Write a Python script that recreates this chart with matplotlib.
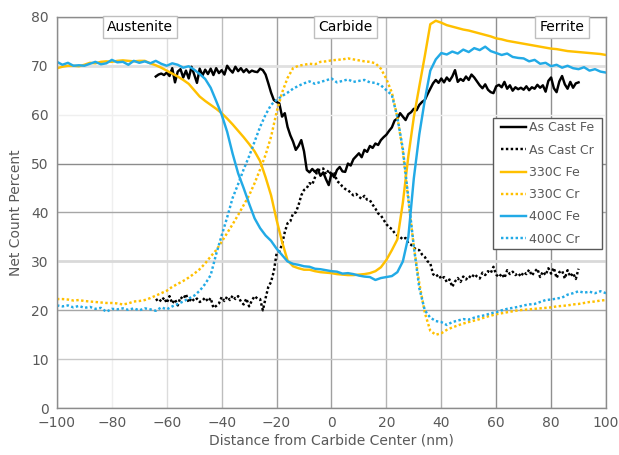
import matplotlib.pyplot as plt
import numpy as np
from matplotlib.patches import Rectangle

# distance axis (nm): heat-treated scans at 2 nm, as-cast scan at 1 nm
x_full = np.arange(-100, 101, 2)
x_cast = np.arange(-64, 91, 1)

fe_330 = [69.5, 69.8, 70.0, 70.0, 69.9, 70.2, 70.6, 70.5, 70.8, 70.9,
          70.8, 71.0, 71.1, 71.0, 70.9, 71.0, 71.0, 70.5, 70.1, 69.6,
          69.0, 68.4, 67.8, 67.1, 66.3, 65.0, 63.7, 62.8, 62.0, 61.2,
          60.3, 59.2, 58.0, 56.7, 55.4, 54.0, 52.5, 50.5, 47.2, 43.5,
          38.5, 34.0, 30.2, 29.0, 28.6, 28.3, 28.3, 28.0, 27.8, 27.7,
          27.6, 27.4, 27.3, 27.2, 27.2, 27.3, 27.4, 27.6, 28.0, 28.8,
          30.3, 32.3, 34.5, 42.0, 51.5, 59.5, 65.8, 72.0, 78.5, 79.2,
          78.8, 78.3, 78.0, 77.7, 77.4, 77.2, 76.9, 76.6, 76.3, 76.0,
          75.6, 75.4, 75.1, 74.9, 74.7, 74.5, 74.3, 74.1, 73.9, 73.7,
          73.5, 73.4, 73.2, 73.0, 72.9, 72.8, 72.7, 72.6, 72.5, 72.4, 72.2]

fe_400 = [70.8, 70.2, 70.6, 70.0, 70.1, 70.0, 70.4, 70.8, 70.3, 70.5,
          71.2, 70.7, 70.8, 70.2, 71.0, 70.6, 70.9, 70.5, 71.0, 70.4,
          70.0, 70.5, 70.2, 69.6, 69.9, 69.2, 68.3, 67.3, 65.5, 62.8,
          60.0, 56.5, 52.0, 48.0, 45.0, 41.8, 38.8, 36.8, 35.3, 34.2,
          32.6, 31.3, 30.0, 29.5, 29.3, 29.0, 28.9, 28.5, 28.4, 28.2,
          28.0, 27.9, 27.5, 27.6, 27.4, 27.1, 26.9, 26.8, 26.2, 26.6,
          26.8, 27.0, 27.8, 30.0, 35.0, 47.0, 56.0, 63.0, 69.0, 71.3,
          72.6, 72.3, 72.9, 72.5, 73.3, 72.8, 73.6, 73.2, 73.9, 73.0,
          72.6, 72.2, 72.5, 71.8, 71.6, 71.5, 70.9, 71.2, 70.4, 70.6,
          69.9, 70.2, 69.6, 70.0, 69.5, 69.3, 69.7, 69.0, 69.3, 68.8, 68.6]

fe_cast = [67.8, 68.2, 68.4, 68.1, 68.6, 67.9, 69.5, 66.6, 68.8, 69.3,
           67.6, 69.0, 67.4, 69.8, 68.2, 66.5, 69.4, 68.0, 69.2, 68.3,
           69.4, 68.1, 69.5, 68.5, 69.1, 68.2, 70.0, 69.2, 68.6, 69.8,
           68.9, 69.5, 68.7, 69.3, 68.6, 69.0, 68.8, 68.7, 69.4, 69.1,
           68.2, 66.4, 64.5, 63.0, 62.6, 62.3, 59.6, 60.3, 57.5, 55.8,
           54.5, 52.8, 53.6, 54.8, 52.5, 48.7, 48.2, 48.9, 48.3, 48.8,
           47.5, 48.2, 46.8, 45.6, 48.0, 47.2, 48.7, 49.3, 48.4, 48.3,
           50.0, 49.6, 50.9, 51.5, 52.1, 51.3, 52.8, 52.4, 53.6, 53.2,
           54.1, 53.8, 54.8, 55.4, 55.9, 56.7, 57.4, 58.8, 59.2, 60.3,
           59.6, 58.9, 60.1, 60.5, 61.2, 60.9, 62.0, 62.6, 63.0, 64.2,
           65.3, 66.4, 67.1, 66.5, 67.4, 66.6, 67.6, 66.9, 67.8, 69.1,
           66.7, 67.3, 66.9, 67.8, 67.1, 68.2, 67.6, 66.8, 66.0, 65.4,
           66.2, 65.1, 64.6, 64.4, 65.8, 66.1, 65.6, 66.7, 65.3, 66.0,
           64.9, 65.6, 65.2, 65.5, 65.1, 65.8, 65.0, 65.6, 65.3, 66.1,
           65.5, 66.0, 64.7, 66.9, 67.6, 65.4, 64.6, 66.8, 67.9, 66.2,
           65.3, 66.7, 65.5, 66.4, 66.6]

cr_330 = [22.3, 22.3, 22.2, 22.0, 22.1, 21.9, 21.8, 21.7, 21.6, 21.5,
          21.5, 21.4, 21.2, 21.4, 21.8, 21.9, 22.1, 22.5, 23.0, 23.5,
          24.0, 24.8, 25.4, 26.0, 26.7, 27.5, 28.4, 29.6, 31.0, 32.3,
          34.0, 35.8, 37.6, 39.5, 41.5, 43.5, 46.0, 48.8, 51.8, 55.5,
          60.5, 64.5, 67.5, 69.5, 70.0, 70.2, 70.4, 70.3, 70.8, 70.9,
          71.1, 71.2, 71.3, 71.5, 71.3, 71.1, 70.9, 70.8, 70.5, 69.4,
          67.3, 64.5, 59.5, 52.5, 42.5, 33.0, 25.5, 19.5, 15.8, 15.0,
          15.3, 16.0, 16.5, 16.9, 17.3, 17.6, 17.9, 18.2, 18.6, 18.9,
          19.2, 19.4, 19.6, 19.8, 20.0, 20.1, 20.2, 20.3, 20.4, 20.5,
          20.6, 20.8, 20.9, 21.0, 21.2, 21.3, 21.5, 21.7, 21.8, 22.0, 22.1]

cr_400 = [21.0, 20.8, 21.0, 20.6, 20.9, 20.5, 20.7, 20.3, 20.5, 19.7,
          20.3, 20.2, 20.4, 20.1, 20.4, 20.0, 20.4, 20.2, 19.9, 20.6,
          20.2, 20.8, 21.3, 21.8, 22.4, 23.0, 24.0, 25.4, 27.2, 31.5,
          35.3, 39.0, 43.0, 45.8, 48.8, 51.5, 54.5, 57.5, 60.0, 62.0,
          63.0, 63.8, 64.5, 65.3, 65.9, 66.4, 66.8, 66.3, 66.7, 67.0,
          67.4, 66.6, 66.9, 67.2, 66.7, 66.9, 67.1, 66.6, 66.5, 66.0,
          65.0, 64.0, 59.5, 53.0, 43.0, 33.0, 24.5, 20.0, 18.5, 17.8,
          17.6, 17.0, 17.6, 17.9, 18.2, 18.1, 18.5, 18.8, 19.0, 19.4,
          19.6, 20.0, 20.3, 20.5, 20.7, 21.0, 21.2, 21.3, 21.7, 22.1,
          22.2, 22.4, 22.6, 23.2, 23.5, 23.9, 23.6, 23.8, 23.5, 23.9, 23.5]

cr_cast = [22.0, 22.4, 21.8, 22.6, 21.5, 22.9, 21.4, 22.2, 21.0, 22.7,
           22.3, 23.3, 21.6, 22.5, 21.9, 22.4, 21.7, 22.0, 22.6, 21.8,
           22.5, 20.5, 20.9, 21.4, 22.7, 21.9, 22.8, 22.1, 23.0, 22.3,
           22.9, 21.8, 21.2, 22.4, 20.8, 22.0, 22.9, 22.4, 22.3, 20.0,
           22.5, 24.8, 25.8, 28.0, 31.6, 32.0, 33.5, 36.0, 37.8, 38.2,
           39.8, 40.0, 41.5, 43.5, 44.6, 45.0, 46.0, 45.7, 47.2, 48.7,
           48.7, 49.0, 47.8, 48.7, 47.5, 48.3, 46.4, 46.0, 45.3, 44.8,
           44.6, 44.0, 43.5, 43.8, 43.2, 42.8, 43.4, 42.6, 42.5, 41.6,
           40.8, 39.8, 39.4, 38.5, 37.6, 37.0, 36.6, 35.8, 35.3, 35.0,
           34.5, 34.8, 33.7, 33.4, 32.8, 32.4, 32.3, 31.4, 30.9, 30.0,
           29.6, 27.4, 26.9, 27.3, 26.4, 26.8, 25.8, 26.3, 24.8, 25.9,
           26.6, 25.8, 26.9, 26.3, 27.0, 26.6, 27.4, 26.9, 26.5, 27.7,
           27.2, 28.0, 27.6, 28.9, 27.3, 26.8, 27.5, 26.6, 28.2, 27.4,
           27.9, 27.2, 27.6, 26.9, 27.8, 27.4, 28.3, 27.1, 27.9, 28.5,
           26.8, 27.9, 27.2, 28.6, 27.5, 28.7, 26.6, 27.8, 28.1, 26.5,
           28.2, 26.9, 27.6, 26.4, 28.5]

regions = ["Austenite", "Carbide", "Ferrite"]
region_x = [-69.8, 5.1, 84.0]

gold = '#FFC000'
blue = '#22AAE6'
dots = (0, (1, 1))

fig, ax = plt.subplots(figsize=(6.19, 4.55), dpi=100)
fig.subplots_adjust(left=0.092, right=0.979, bottom=0.103, top=0.963)

ax.plot(x_cast, fe_cast, color='black', lw=1.75, label='As Cast Fe')
ax.plot(x_cast, cr_cast, color='black', lw=1.75, ls=dots, label='As Cast Cr')
ax.plot(x_full, fe_330, color=gold, lw=1.75, label='330C Fe')
ax.plot(x_full, cr_330, color=gold, lw=1.75, ls=dots, label='330C Cr')
ax.plot(x_full, fe_400, color=blue, lw=1.75, label='400C Fe')
ax.plot(x_full, cr_400, color=blue, lw=1.75, ls=dots, label='400C Cr')

ax.set_xlim(-100, 100)
ax.set_ylim(0, 80)
ax.set_xticks(np.arange(-100, 101, 20))
ax.set_yticks(np.arange(0, 81, 10))
ax.tick_params(length=0, labelsize=10, labelcolor='#595959', pad=6)
ax.set_xlabel('Distance from Carbide Center (nm)', fontsize=10, color='#595959', labelpad=2)
ax.set_ylabel('Net Count Percent', fontsize=10, color='#595959', labelpad=6)

# grid, shades as they come out in the exported chart
ax.grid(True, lw=1.0)
ax.set_axisbelow(True)
xg = ['#a0a0a0', '#efefef', '#dcdcdc', '#bdbdbd', '#a0a0a0', '#a0a0a0',
      '#b5b5b5', '#b0b0b0', '#909090', '#909090', '#a0a0a0']
yg = ['#a0a0a0', '#c8c8c8', '#a6a6a6', '#d9d9d9', '#a6a6a6', '#8c8c8c',
      '#efefef', '#e0e0e0', '#a0a0a0']
for line, c in zip(ax.xaxis.get_gridlines(), xg):
    line.set_color(c)
for line, c in zip(ax.yaxis.get_gridlines(), yg):
    line.set_color(c)
    if c in ('#d9d9d9', '#e0e0e0'):
        line.set_linewidth(2.0)
for s in ax.spines.values():
    s.set_color('#8c8c8c')
    s.set_linewidth(1.0)

for name, xr in zip(regions, region_x):
    ax.text(xr, 77.9, name, ha='center', va='center', fontsize=10, color='black',
            bbox=dict(boxstyle='square,pad=0.3', fc='white', ec='#bfbfbf', lw=1.0))

# legend box drawn separately so it can be wider than the entries
ax.add_patch(Rectangle((0.794, 0.407), 0.199, 0.335, transform=ax.transAxes,
                       fc='white', ec='#595959', lw=1.0, zorder=4))
leg = ax.legend(loc='center', bbox_to_anchor=(0.8934, 0.574), fontsize=9,
                frameon=False, handlelength=2.0, handletextpad=0.2,
                labelspacing=0.74, borderpad=0, borderaxespad=0)
leg.set_zorder(5)
for t in leg.get_texts():
    t.set_color('#595959')

fig.savefig('out.png', dpi=100)
